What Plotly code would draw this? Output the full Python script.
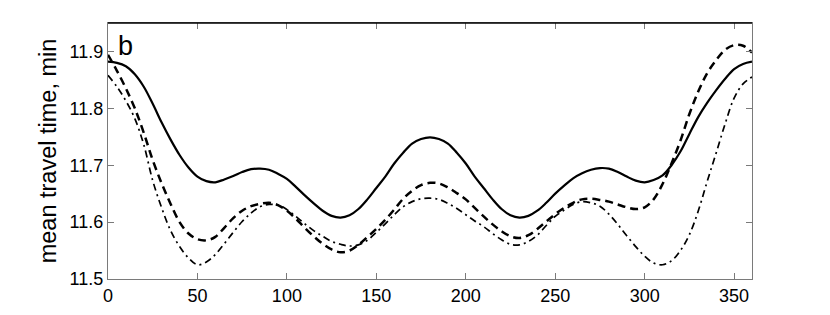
import plotly.graph_objects as go

angle = list(range(0, 365, 5))

solid_vals = [
    11.882, 11.880, 11.874, 11.860, 11.838, 11.808, 11.775, 11.745, 11.718, 11.696,
    11.680, 11.672, 11.670, 11.675, 11.681, 11.688, 11.693, 11.694, 11.692, 11.685,
    11.676, 11.662, 11.647, 11.633, 11.620, 11.611, 11.608, 11.612, 11.623, 11.640,
    11.660, 11.680, 11.703, 11.722, 11.738, 11.746, 11.749, 11.746, 11.738, 11.722,
    11.703, 11.680, 11.660, 11.640, 11.623, 11.612, 11.608, 11.611, 11.620, 11.634,
    11.650, 11.664, 11.677, 11.686, 11.692, 11.695, 11.694, 11.688, 11.680, 11.673,
    11.670, 11.674, 11.682, 11.700, 11.724, 11.755, 11.785, 11.810, 11.832, 11.852,
    11.869, 11.878, 11.882,
]

dashed_vals = [
    11.894, 11.866, 11.835, 11.800, 11.757, 11.709, 11.668, 11.632, 11.600, 11.580,
    11.570, 11.568, 11.574, 11.590, 11.607, 11.620, 11.628, 11.632, 11.634, 11.630,
    11.620, 11.606, 11.590, 11.575, 11.562, 11.552, 11.547, 11.550, 11.560, 11.574,
    11.588, 11.604, 11.622, 11.641, 11.655, 11.665, 11.669, 11.668, 11.661, 11.651,
    11.640, 11.625, 11.610, 11.596, 11.584, 11.575, 11.572, 11.577, 11.588, 11.601,
    11.614, 11.625, 11.634, 11.640, 11.641, 11.639, 11.636, 11.631, 11.626, 11.623,
    11.626, 11.640, 11.667, 11.703, 11.743, 11.790, 11.830, 11.862, 11.885, 11.903,
    11.911, 11.910, 11.898,
]

dashdot_vals = [
    11.858, 11.838, 11.813, 11.782, 11.736, 11.673, 11.625, 11.585, 11.557, 11.537,
    11.525, 11.530, 11.543, 11.562, 11.582, 11.601, 11.616, 11.627, 11.631, 11.630,
    11.622, 11.610, 11.597, 11.585, 11.575, 11.566, 11.561, 11.558, 11.560, 11.568,
    11.582, 11.597, 11.613, 11.627, 11.636, 11.641, 11.642, 11.640, 11.633, 11.624,
    11.613, 11.602, 11.592, 11.580, 11.569, 11.561, 11.560, 11.566, 11.577, 11.594,
    11.610, 11.621, 11.631, 11.636, 11.634, 11.628, 11.614, 11.596, 11.576, 11.557,
    11.540, 11.528, 11.525, 11.532, 11.550, 11.578, 11.620, 11.672, 11.722, 11.773,
    11.818, 11.843, 11.855,
]

x_ticks = [0, 50, 100, 150, 200, 250, 300, 350]
x_ticktext = ["0", "50", "100", "150", "200", "250", "300", "350"]
y_ticks = [11.5, 11.6, 11.7, 11.8, 11.9]
y_ticktext = ["11.5", "11.6", "11.7", "11.8", "11.9"]

FONT = "Liberation Sans, Arial, Helvetica, sans-serif"
AX = "#7a7a7a"

fig = go.Figure()
fig.add_trace(go.Scatter(x=angle, y=dashdot_vals, mode="lines", line_shape="spline",
                         line=dict(color="black", width=1.7, dash="7px,4px,2px,4px"),
                         showlegend=False))
fig.add_trace(go.Scatter(x=angle, y=dashed_vals, mode="lines", line_shape="spline",
                         line=dict(color="black", width=2.5, dash="8px,5px"),
                         showlegend=False))
fig.add_trace(go.Scatter(x=angle, y=solid_vals, mode="lines", line_shape="spline",
                         line=dict(color="black", width=2.2),
                         showlegend=False))

fig.update_layout(
    width=830, height=315,
    margin=dict(l=100, r=86, t=15, b=44),
    paper_bgcolor="white", plot_bgcolor="white",
    font=dict(family=FONT, size=18, color="black"),
    xaxis=dict(range=[0, 360], tickvals=x_ticks, ticktext=x_ticktext,
               showgrid=False, zeroline=False, showline=True, linecolor=AX,
               linewidth=1.3, mirror="ticks", ticks="inside", ticklen=6,
               tickcolor=AX, tickwidth=1, tickfont=dict(size=18)),
    yaxis=dict(range=[11.5, 11.95], tickvals=y_ticks, ticktext=y_ticktext,
               showgrid=False, zeroline=False, showline=True, linecolor=AX,
               linewidth=1.3, mirror="ticks", ticks="inside", ticklen=6,
               tickcolor=AX, tickwidth=1, tickfont=dict(size=18),
               title=dict(text="mean travel time, min", font=dict(size=23.5),
                          standoff=6)),
    shapes=[dict(type="line", xref="paper", yref="paper", x0=0, x1=1, y0=1, y1=1,
                 line=dict(color="black", width=1.3))],
    annotations=[dict(text="b", xref="paper", yref="paper", x=0.012, y=0.91,
                      xanchor="left", yanchor="middle", showarrow=False,
                      font=dict(size=27, family=FONT, color="black"))],
)

fig.write_html("out.html")
